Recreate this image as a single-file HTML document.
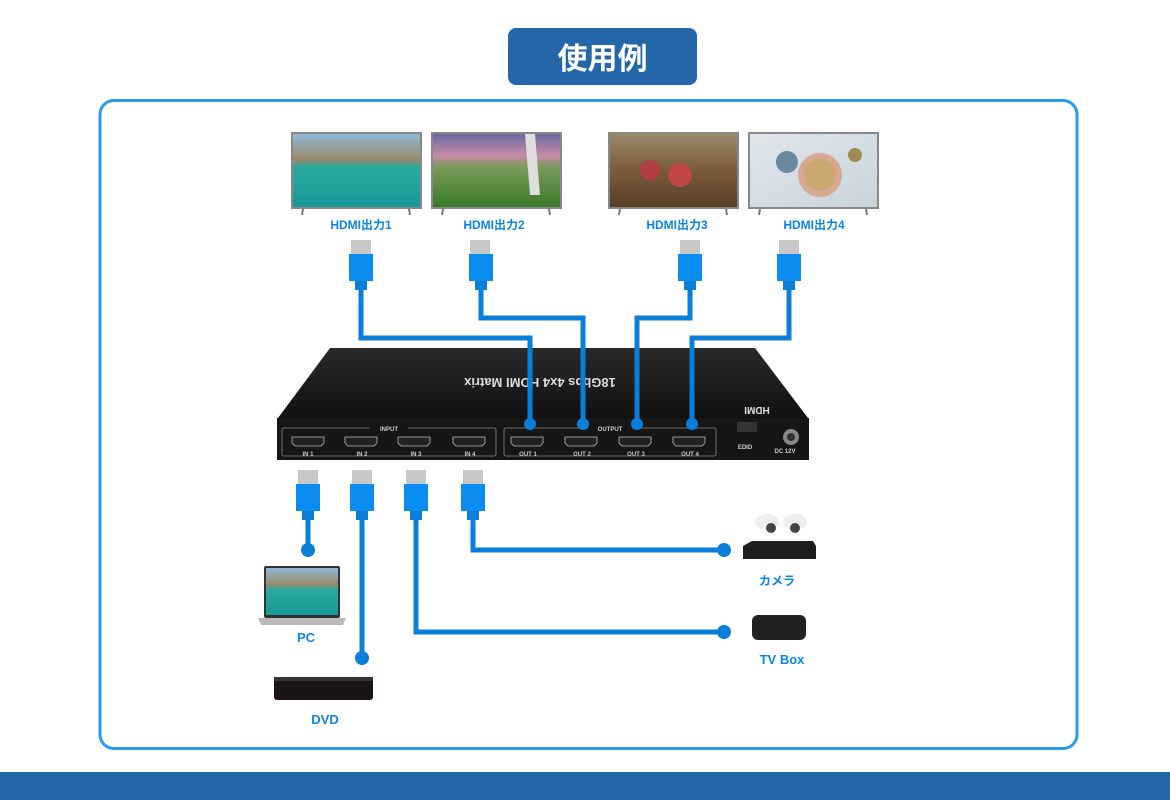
<!DOCTYPE html>
<html><head><meta charset="utf-8"><style>
html,body{margin:0;padding:0;background:#fff;}
svg{display:block;}
text{font-family:"Liberation Sans","Noto Sans CJK JP",sans-serif;}
</style></head><body>
<svg width="1170" height="800" viewBox="0 0 1170 800" xmlns="http://www.w3.org/2000/svg">
<defs>
<linearGradient id="sky1" x1="0" y1="0" x2="0" y2="1"><stop offset="0" stop-color="#8fb8d8"/><stop offset="0.35" stop-color="#9a8a6a"/><stop offset="0.45" stop-color="#2aa9a0"/><stop offset="1" stop-color="#1a9a98"/></linearGradient>
<linearGradient id="sky2" x1="0" y1="0" x2="0" y2="1"><stop offset="0" stop-color="#6a6aa0"/><stop offset="0.3" stop-color="#c88aa8"/><stop offset="0.45" stop-color="#7a9a5a"/><stop offset="1" stop-color="#3a7a2a"/></linearGradient>
<linearGradient id="sky3" x1="0" y1="0" x2="0" y2="1"><stop offset="0" stop-color="#9a8a6a"/><stop offset="0.5" stop-color="#7a5a3a"/><stop offset="1" stop-color="#5a4028"/></linearGradient>
<linearGradient id="sky4" x1="0" y1="0" x2="1" y2="1"><stop offset="0" stop-color="#dfe6ec"/><stop offset="1" stop-color="#c8d4dc"/></linearGradient>
<linearGradient id="top" x1="0" y1="0" x2="0" y2="1"><stop offset="0" stop-color="#2a2a2a"/><stop offset="1" stop-color="#111"/></linearGradient>
</defs>

<rect x="508" y="28" width="189" height="57" rx="8" fill="#2367a8"/>
<text x="602.5" y="69" text-anchor="middle" font-size="30" font-weight="bold" fill="#fff">使用例</text>

<rect x="100" y="100.5" width="977" height="648" rx="14" fill="none" stroke="#2b9bf0" stroke-width="3"/>

<rect x="0" y="772" width="1170" height="28" fill="#2367a8"/>

<g>
<rect x="291" y="132" width="131" height="77" fill="#888"/><rect x="293" y="134" width="127" height="73" fill="url(#sky1)"/>
<rect x="431" y="132" width="131" height="77" fill="#888"/><rect x="433" y="134" width="127" height="73" fill="url(#sky2)"/>
<path d="M525 134 L535 134 L540 195 L530 195 Z" fill="#ddd"/>
<rect x="608" y="132" width="131" height="77" fill="#888"/><rect x="610" y="134" width="127" height="73" fill="url(#sky3)"/>
<circle cx="650" cy="170" r="10" fill="#b04040"/><circle cx="680" cy="175" r="12" fill="#c04545"/>
<rect x="748" y="132" width="131" height="77" fill="#888"/><rect x="750" y="134" width="127" height="73" fill="url(#sky4)"/>
<circle cx="820" cy="175" r="22" fill="#d8a890"/><circle cx="820" cy="175" r="16" fill="#c8a870"/><circle cx="787" cy="162" r="11" fill="#6a8aa0"/><circle cx="855" cy="155" r="7" fill="#a08a50"/>
<g stroke="#777" stroke-width="2"><line x1="303" y1="209" x2="302" y2="215"/><line x1="409" y1="209" x2="410" y2="215"/><line x1="443" y1="209" x2="442" y2="215"/><line x1="549" y1="209" x2="550" y2="215"/><line x1="620" y1="209" x2="619" y2="215"/><line x1="726" y1="209" x2="727" y2="215"/><line x1="760" y1="209" x2="759" y2="215"/><line x1="866" y1="209" x2="867" y2="215"/></g>
</g>
<g font-size="12" font-weight="bold" fill="#0a85e8" text-anchor="middle">
<text x="361" y="229">HDMI出力1</text>
<text x="494" y="229">HDMI出力2</text>
<text x="677" y="229">HDMI出力3</text>
<text x="814" y="229">HDMI出力4</text>
</g>

<path d="M330 348 L755 348 L808 418 L278 418 Z" fill="url(#top)"/>
<rect x="277" y="418" width="532" height="42" fill="#161616"/>
<text x="540" y="386" text-anchor="middle" font-size="13" font-weight="bold" fill="#ddd" transform="rotate(180 540 382)">18Gbps 4x4 HDMI Matrix</text>
<text x="757" y="415" text-anchor="middle" font-size="10" font-weight="bold" fill="#ddd" transform="rotate(180 757 411)">HDMI</text>
<g fill="none" stroke="#888" stroke-width="0.8">
<rect x="282" y="428" width="214" height="28" rx="2"/>
<rect x="504" y="428" width="212" height="28" rx="2"/>
</g>
<rect x="370" y="424" width="38" height="8" fill="#161616"/>
<rect x="588" y="424" width="44" height="8" fill="#161616"/>
<g font-size="6" fill="#ccc" text-anchor="middle" font-weight="bold">
<text x="389" y="431">INPUT</text><text x="610" y="431">OUTPUT</text>
<text x="308" y="456">IN 1</text><text x="362" y="456">IN 2</text><text x="416" y="456">IN 3</text><text x="470" y="456">IN 4</text>
<text x="528" y="456">OUT 1</text><text x="582" y="456">OUT 2</text><text x="636" y="456">OUT 3</text><text x="690" y="456">OUT 4</text>
<text x="745" y="449">EDID</text><text x="785" y="453">DC 12V</text>
</g>
<g fill="#222" stroke="#bbb" stroke-width="0.8">
<path d="M292 437 h32 v6 l-3 3 h-26 l-3 -3 z"/><path d="M345 437 h32 v6 l-3 3 h-26 l-3 -3 z"/>
<path d="M398 437 h32 v6 l-3 3 h-26 l-3 -3 z"/><path d="M453 437 h32 v6 l-3 3 h-26 l-3 -3 z"/>
<path d="M511 437 h32 v6 l-3 3 h-26 l-3 -3 z"/><path d="M565 437 h32 v6 l-3 3 h-26 l-3 -3 z"/>
<path d="M619 437 h32 v6 l-3 3 h-26 l-3 -3 z"/><path d="M673 437 h32 v6 l-3 3 h-26 l-3 -3 z"/>
</g>
<rect x="737" y="422" width="20" height="10" fill="#333"/>
<circle cx="791" cy="437" r="8" fill="#888"/><circle cx="791" cy="437" r="4" fill="#333"/>

<g fill="none" stroke="#0a7fd8" stroke-width="5">
<polyline points="361,288 361,338 530,338 530,425"/>
<polyline points="481,288 481,318 583,318 583,425"/>
<polyline points="690,288 690,318 637,318 637,425"/>
<polyline points="789,288 789,338 692,338 692,425"/>
<polyline points="308,512 308,550"/>
<polyline points="362,512 362,657"/>
<polyline points="416,512 416,632 724,632"/>
<polyline points="473,512 473,550 724,550"/>
</g>
<g fill="#0a7fd8"><circle cx="530" cy="424" r="6"/><circle cx="583" cy="424" r="6"/><circle cx="637" cy="424" r="6"/><circle cx="692" cy="424" r="6"/></g>

<g fill="#c8c8c8"><rect x="351" y="240" width="20" height="15"/><rect x="470" y="240" width="20" height="15"/><rect x="680" y="240" width="20" height="15"/><rect x="779" y="240" width="20" height="15"/>
<rect x="298" y="470" width="20" height="15"/><rect x="352" y="470" width="20" height="15"/><rect x="406" y="470" width="20" height="15"/><rect x="463" y="470" width="20" height="15"/></g>
<g fill="#0a8cf0"><rect x="349" y="254" width="24" height="27"/><rect x="469" y="254" width="24" height="27"/><rect x="678" y="254" width="24" height="27"/><rect x="777" y="254" width="24" height="27"/>
<rect x="296" y="484" width="24" height="27"/><rect x="350" y="484" width="24" height="27"/><rect x="404" y="484" width="24" height="27"/><rect x="461" y="484" width="24" height="27"/></g>
<g fill="#0a7fd8"><rect x="355" y="281" width="12" height="9"/><rect x="475" y="281" width="12" height="9"/><rect x="684" y="281" width="12" height="9"/><rect x="783" y="281" width="12" height="9"/>
<rect x="302" y="511" width="12" height="9"/><rect x="356" y="511" width="12" height="9"/><rect x="410" y="511" width="12" height="9"/><rect x="467" y="511" width="12" height="9"/></g>

<g fill="#0a7fd8"><circle cx="308" cy="550" r="7"/><circle cx="362" cy="658" r="7"/><circle cx="724" cy="632" r="7"/><circle cx="724" cy="550" r="7"/></g>

<rect x="264" y="566" width="76" height="52" rx="2" fill="#333"/>
<rect x="266" y="568" width="72" height="47" fill="url(#sky1)"/>
<path d="M258 618 L346 618 L343 625 L261 625 Z" fill="#bbb"/>
<text x="306" y="642" text-anchor="middle" font-size="13" font-weight="bold" fill="#0a85e8">PC</text>

<rect x="274" y="677" width="99" height="23" rx="3" fill="#1a1414"/>
<rect x="274" y="677" width="99" height="4" fill="#3a3333"/>
<text x="325" y="724" text-anchor="middle" font-size="13" font-weight="bold" fill="#0a85e8">DVD</text>

<ellipse cx="767" cy="522" rx="12" ry="8" fill="#eee"/><ellipse cx="795" cy="522" rx="12" ry="8" fill="#eee"/>
<circle cx="771" cy="528" r="5" fill="#444"/><circle cx="795" cy="528" r="5" fill="#444"/>
<path d="M743 546 L752 541 L813 541 L816 546 L816 559 L743 559 Z" fill="#1e1e1e"/>
<text x="777" y="585" text-anchor="middle" font-size="12" font-weight="bold" fill="#0a85e8">カメラ</text>

<rect x="752" y="615" width="54" height="25" rx="6" fill="#222"/>
<text x="782" y="664" text-anchor="middle" font-size="13" font-weight="bold" fill="#0a85e8">TV Box</text>
</svg>
</body></html>
